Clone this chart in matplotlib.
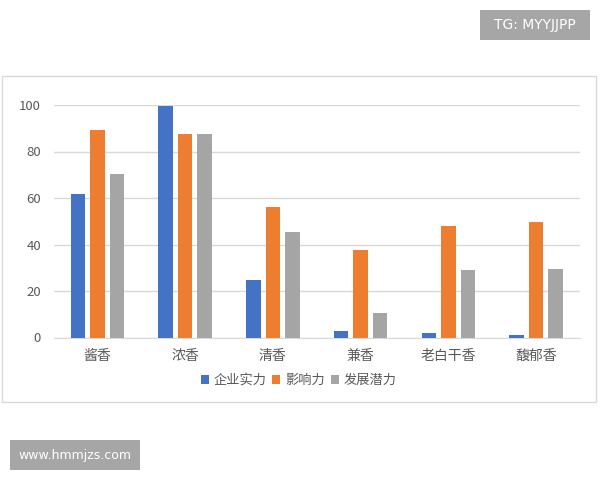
import numpy as np
import matplotlib.pyplot as plt
from matplotlib.patches import Rectangle

plt.rcParams['font.family'] = ['Noto Sans CJK SC', 'DejaVu Sans']

# data
categories = ['酱香', '浓香', '清香', '兼香', '老白干香', '馥郁香']
strength = [61.7, 99.7, 24.6, 2.6, 2.1, 1.0]
influence = [89.4, 87.5, 56.2, 37.8, 48.0, 49.5]
potential = [70.3, 87.5, 45.4, 10.6, 28.9, 29.5]
series_names = ['企业实力', '影响力', '发展潜力']
colors = ['#4472C4', '#ED7D31', '#A5A5A5']

W, H = 600, 480
fig = plt.figure(figsize=(6, 4.8), dpi=100)


def px_box(x0, y0, x1, y1, **kw):
    # rectangle given in pixel coords (top-left origin)
    r = Rectangle((x0 / W, 1 - y1 / H), (x1 - x0) / W, (y1 - y0) / H,
                  transform=fig.transFigure, **kw)
    fig.patches.append(r)


# chart frame
px_box(2, 76, 596, 402, fill=False, edgecolor='#D9D9D9', lw=1.0)

ax = fig.add_axes([53.5 / W, 1 - 337.5 / H, 526.5 / W, 232.5 / H])
x = np.arange(len(categories))
w = 0.166
for i, (vals, name) in enumerate(zip([strength, influence, potential], series_names)):
    ax.bar(x + (i - 1) * 0.223, vals, w, color=colors[i], label=name, zorder=3)

ax.set_xlim(-0.5, len(categories) - 0.5)
ax.set_ylim(0, 100)
ax.set_yticks(range(0, 101, 20))
ax.yaxis.grid(True, color='#D9D9D9', lw=1)
ax.set_axisbelow(True)
for s in ['top', 'right', 'left']:
    ax.spines[s].set_visible(False)
ax.spines['bottom'].set_color('#D9D9D9')
ax.tick_params(axis='both', length=0, colors='#595959')
ax.tick_params(axis='y', labelsize=9.5, pad=9)
ax.tick_params(axis='x', labelsize=10, pad=8)
ax.set_xticks(x)
ax.set_xticklabels(categories)

ax.legend(loc='center', bbox_to_anchor=(0.466, -0.185), ncol=3, frameon=False,
          fontsize=9.5, handlelength=0.6, handleheight=0.6, handletextpad=0.4,
          columnspacing=0.4, labelcolor='#595959')

# watermarks
px_box(480, 10, 590, 39.5, facecolor='#A6A6A6', edgecolor='none')
fig.text(535 / W, 1 - 24.8 / H, 'TG: MYYJJPP', color='white', fontsize=10,
         ha='center', va='center', family='DejaVu Sans')
px_box(10, 440, 140, 470, facecolor='#A6A6A6', edgecolor='none')
fig.text(75 / W, 1 - 455 / H, 'www.hmmjzs.com', color='white', fontsize=9,
         ha='center', va='center', family='DejaVu Sans')

plt.savefig('out.png', dpi=100)
